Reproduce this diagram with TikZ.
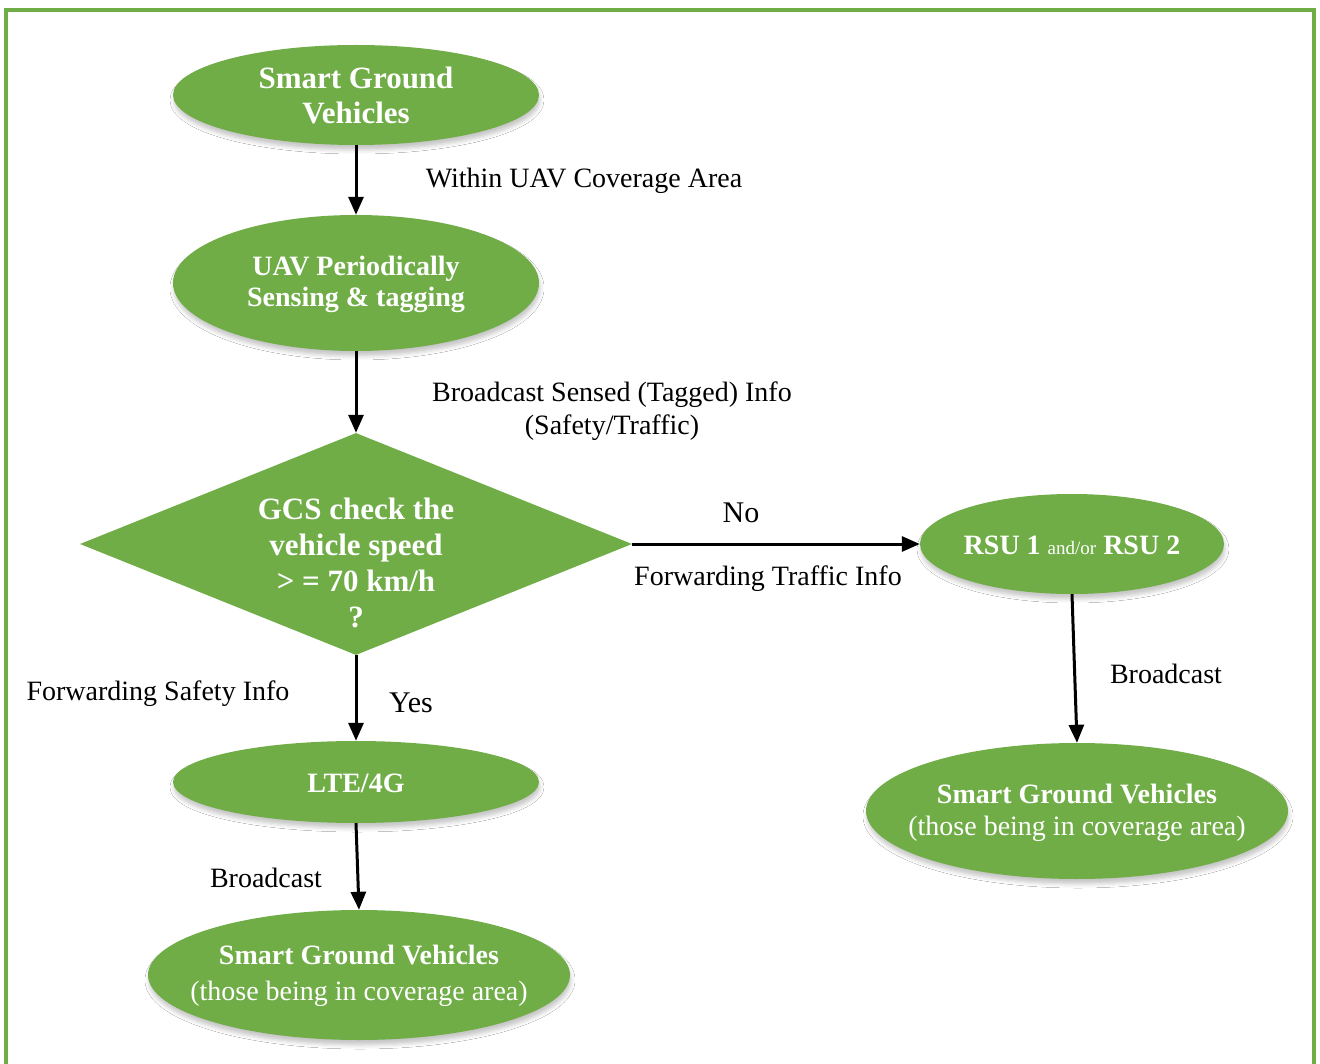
\documentclass[tikz,border=0pt]{standalone}
\usepackage{fontspec}
\setmainfont{Liberation Serif}
\usetikzlibrary{shapes.geometric,arrows.meta,shadows.blur}
\definecolor{leaf}{HTML}{70AD47}
\tikzset{
  bubble/.style={ellipse, fill=leaf, draw=none, inner sep=0pt,
    blur shadow={shadow xshift=1pt, shadow yshift=-5pt, shadow blur radius=4pt, shadow opacity=22}},
  decision/.style={diamond, fill=leaf, draw=none, inner sep=0pt},
  intext/.style={text=white, align=center, inner sep=0pt},
  flow/.style={line width=3pt, -{Triangle[length=18pt,width=15pt]}},
  lbl/.style={font=\fontsize{28}{33}\selectfont, text=black, align=center, inner sep=0pt}
}
\begin{document}
\begin{tikzpicture}[x=1pt,y=-1pt]
\useasboundingbox (0,0) rectangle (1320,1064);
\fill[white] (0,0) rectangle (1320,1064);
% outer frame, open at the bottom edge of the page
\begin{scope}
  \clip (0,0) rectangle (1320,1064);
  \draw[leaf, line width=4.5pt] (6,10) rectangle (1314,1120);
\end{scope}

% shapes
\node[bubble, minimum width=366pt, minimum height=100pt] (sgv) at (356,95) {};
\node[bubble, minimum width=366pt, minimum height=136pt] (uav) at (356,283) {};
\node[decision, minimum width=552pt, minimum height=222pt] (gcs) at (356,544) {};
\node[bubble, minimum width=304pt, minimum height=100pt] (rsu) at (1072,544) {};
\node[bubble, minimum width=366pt, minimum height=82pt] (lte) at (356,782) {};
\node[bubble, minimum width=422pt, minimum height=130pt] (sgvl) at (359,975) {};
\node[bubble, minimum width=422pt, minimum height=136pt] (sgvr) at (1077,811) {};

% texts inside the shapes
\node[intext, font=\fontsize{31}{35}\selectfont\bfseries] (sgvt) at (356,95) {Smart Ground\\Vehicles};
\node[intext, font=\fontsize{28}{31}\selectfont\bfseries] (uavt) at (356,284) {UAV Periodically\\Sensing \& tagging};
\node[intext, font=\fontsize{31}{36}\selectfont\bfseries] (gcst) at (356,563) {GCS check the\\vehicle speed\\> = 70 km/h\\?};
\node[intext, font=\fontsize{28}{32}\selectfont] (rsut) at (1072,545)
  {\textbf{RSU 1} {\fontsize{19}{22}\selectfont and/or} \textbf{RSU 2}};
\node[intext, font=\fontsize{28}{32}\selectfont\bfseries] (ltet) at (356,783) {LTE/4G};
\node[intext, font=\fontsize{28}{36}\selectfont] (sgvlt) at (359,976)
  {\textbf{Smart Ground Vehicles}\\(those being in coverage area)};
\node[intext, font=\fontsize{28}{32}\selectfont] (sgvrt) at (1077,813)
  {\textbf{Smart Ground Vehicles}\\(those being in coverage area)};

% connectors
\draw[flow] (sgv.south) -- (uav.north);
\draw[flow] (uav.south) -- (gcs.north);
\draw[flow] (gcs.east) -- (rsu.west);
\draw[flow] (gcs.south) -- (lte.north);
\draw[flow] (lte.south) -- (sgvl.north);
\draw[flow] (rsu.south) -- (sgvr.north);

% connector labels
\node[lbl] (l1) at (584,181) {Within UAV Coverage Area};
\node[lbl] (l2) at (612,411) {Broadcast Sensed (Tagged) Info\\(Safety/Traffic)};
\node[lbl, font=\fontsize{30}{34}\selectfont] (l3) at (741,513) {No};
\node[lbl] (l4) at (768,579) {Forwarding Traffic Info};
\node[lbl] (l5) at (1166,674) {Broadcast};
\node[lbl, font=\fontsize{30}{34}\selectfont] (l6) at (411,703) {Yes};
\node[lbl] (l7) at (158,694) {Forwarding Safety Info};
\node[lbl] (l8) at (266,878) {Broadcast};
\end{tikzpicture}
\end{document}
